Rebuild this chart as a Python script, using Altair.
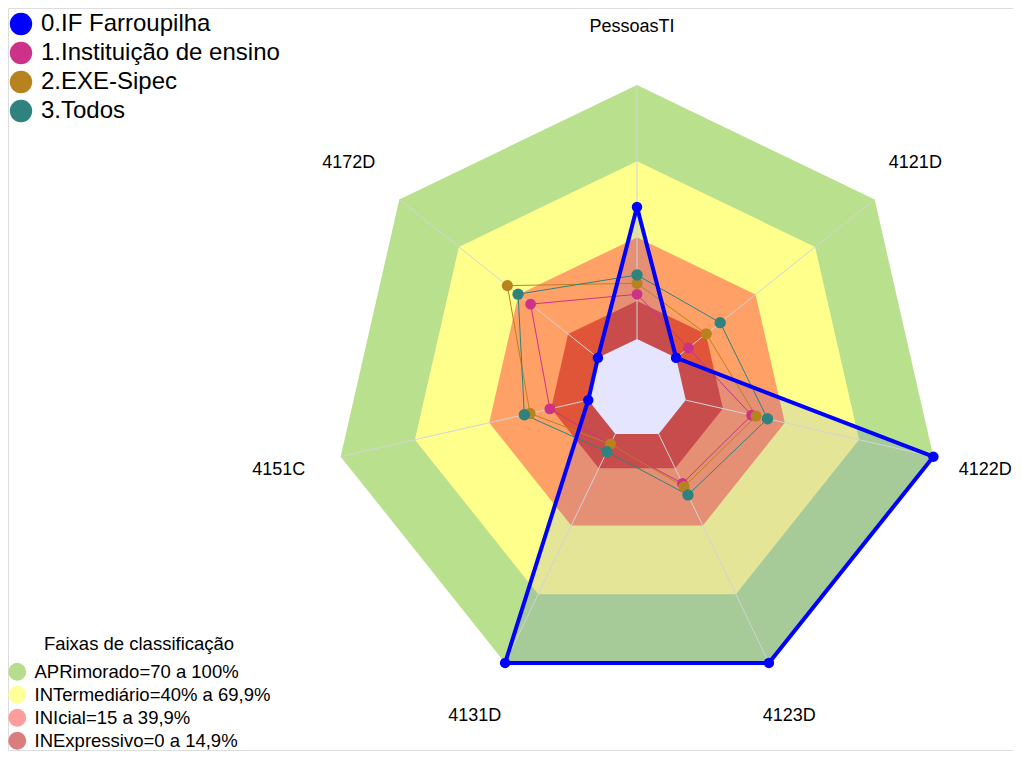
import altair as alt
import pandas as pd

# ---------------- data ----------------
eixos = ["PessoasTI", "4121D", "4122D", "4123D", "4131D", "4151C", "4172D"]
series = ["0.IF Farroupilha", "1.Instituição de ensino", "2.EXE-Sipec", "3.Todos"]
v_if = [52.0, 0.0, 100.0, 100.0, 100.0, 0.0, 0.0]
v_inst = [17.6, 6.2, 26.6, 21.6, 4.5, 15.5, 33.9]
v_exe = [21.9, 15.2, 28.4, 23.0, 4.4, 23.5, 45.6]
v_todos = [25.2, 22.2, 33.0, 26.6, 7.7, 25.8, 40.2]

faixas = ["APRimorado=70 a 100%", "INTermediário=40% a 69,9%",
          "INIcial=15 a 39,9%", "INExpressivo=0 a 14,9%"]
limites = [100, 70, 40, 15]

# ---------------- styles ----------------
serie_cores = ["#0000FF", "#CC3388", "#B8821E", "#2F827E"]
faixa_cores = ["#B9E18D", "#FFFF8C", "#FFA066", "#E05538"]
legenda_cores = ["#B5DD8C", "#FFFF99", "#FF9C9C", "#D97D7D"]
FONT = "Liberation Sans"
N = len(eixos)
HOLE = 19.685          # empty centre, in value units
LABEL_V = 123          # label radius, in value units

# ---------------- tables ----------------
valores = [v_if, v_inst, v_exe, v_todos]
rows = []
for s, vals in zip(series, valores):
    for i in range(N + 1):
        rows.append({"serie": s, "idx": i % N, "ord": i, "valor": vals[i % N]})
serie_df = pd.DataFrame(rows)

band_rows = []
for f, lim in zip(faixas, limites):
    for i in range(N):
        band_rows.append({"faixa": f, "idx": i, "valor": lim})
band_df = pd.DataFrame(band_rows)

hole_df = pd.DataFrame({"idx": list(range(N)), "valor": [0] * N})

spoke_rows = []
for i, e in enumerate(eixos):
    spoke_rows.append({"eixo": e, "idx": i, "valor": 0})
    spoke_rows.append({"eixo": e, "idx": i, "valor": 100})
spoke_df = pd.DataFrame(spoke_rows)

label_df = pd.DataFrame({"eixo": eixos, "idx": list(range(N))})
legend_df = pd.DataFrame({"faixa": faixas})

X = alt.X("px:Q", scale=alt.Scale(domain=[-247.64, 148.03], nice=False, zero=False), axis=None)
Y = alt.Y("py:Q", scale=alt.Scale(domain=[-142.13, 150.0], nice=False, zero=False), axis=None)


def polar(ch, rexpr="datum.valor"):
    return ch.transform_calculate(
        ang=f"datum.idx*2*PI/{N}",
        r=f"({rexpr}) + {HOLE}",
    ).transform_calculate(
        px="datum.r*sin(datum.ang)",
        py="datum.r*cos(datum.ang)",
    )


layers = []
# bands, largest first
for f, cor in zip(faixas, faixa_cores):
    layers.append(
        polar(alt.Chart(band_df).transform_filter(alt.datum.faixa == f))
        .mark_line(fill=cor, strokeWidth=0, strokeOpacity=0)
        .encode(x=X, y=Y, order="idx:Q")
    )
# empty centre
layers.append(
    polar(alt.Chart(hole_df)).mark_line(fill="white", strokeWidth=0, strokeOpacity=0)
    .encode(x=X, y=Y, order="idx:Q")
)
# translucent fill of the first series
layers.append(
    polar(alt.Chart(serie_df).transform_filter(alt.datum.serie == series[0]))
    .mark_line(fill="#0000FF", fillOpacity=0.1, strokeWidth=0, strokeOpacity=0)
    .encode(x=X, y=Y, order="ord:Q")
)
# spokes
layers.append(
    polar(alt.Chart(spoke_df)).mark_line(stroke="#D2D2DA", strokeWidth=1)
    .encode(x=X, y=Y, detail="eixo:N", order="valor:Q")
)
# other series lines
cscale = alt.Scale(domain=series, range=serie_cores)
layers.append(
    polar(alt.Chart(serie_df).transform_filter(alt.datum.serie != series[0]))
    .mark_line(strokeWidth=1)
    .encode(x=X, y=Y, order="ord:Q",
            color=alt.Color("serie:N", scale=cscale, legend=None))
)
# first series line
layers.append(
    polar(alt.Chart(serie_df).transform_filter(alt.datum.serie == series[0]))
    .mark_line(strokeWidth=4, color="#0000FF")
    .encode(x=X, y=Y, order="ord:Q")
)
# points
layers.append(
    polar(alt.Chart(serie_df).transform_filter(alt.datum.ord < N))
    .mark_circle(opacity=1)
    .encode(
        x=X, y=Y,
        color=alt.Color("serie:N", scale=cscale, title=None,
                        legend=alt.Legend(orient="none", legendX=1, legendY=4,
                                          labelFontSize=24, labelFont=FONT, labelColor="black",
                                          labelLimit=0,
                                          symbolType="circle", symbolSize=500,
                                          symbolStrokeWidth=0, symbolOpacity=1,
                                          labelOffset=8, rowPadding=5, padding=0)),
        size=alt.Size("serie:N", scale=alt.Scale(domain=series, range=[110, 130, 130, 130]),
                      legend=None),
    )
)
# axis labels
layers.append(
    polar(alt.Chart(label_df), rexpr=str(LABEL_V))
    .mark_text(fontSize=18, font=FONT, color="black", align="center", baseline="middle", dx=-5)
    .encode(x=X, y=Y, text="eixo:N")
)
# legend of bands
layers.append(
    alt.Chart(legend_df).mark_circle(opacity=0, size=1)
    .encode(
        fill=alt.Fill("faixa:N", scale=alt.Scale(domain=faixas, range=legenda_cores),
                      title="Faixas de classificação",
                      legend=alt.Legend(orient="none", legendX=0, legendY=627,
                                        titleFontSize=18.5, titleFont=FONT, titleFontWeight="normal",
                                        titleColor="black", titleAnchor="middle", titlePadding=9,
                                        titleLimit=0, labelLimit=0,
                                        labelFontSize=18.5, labelFont=FONT, labelColor="black",
                                        symbolType="circle", symbolSize=324,
                                        symbolStrokeWidth=0, symbolOpacity=1,
                                        labelOffset=8, rowPadding=4, padding=0)),
    )
)

chart = alt.layer(*layers).resolve_scale(color="independent").properties(
    width=1005, height=742, autosize=alt.AutoSizeParams(type="pad"),
    padding=0, background="white",
).configure_view(stroke="transparent", strokeWidth=0).configure(font=FONT)

chart.save("out.html", embed_options={"renderer": "svg", "actions": False})
